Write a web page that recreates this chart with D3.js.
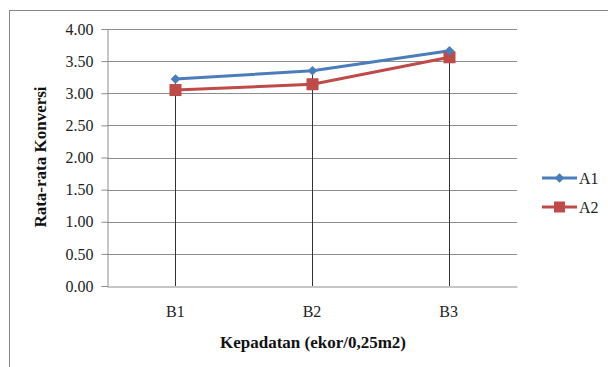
<!doctype html>
<html lang="en">
  <head>
    <title>Rata-rata Konversi</title>
    <style>
      body {
        margin: 0;
        background: white;
      }
      svg, svg text {
        display: block;
        font-family: "Liberation Serif", "Times New Roman", Times, "DejaVu Serif", serif !important;
      }
    </style>
  </head>
  <body>
    <div id="chart"></div>

    <script src="https://cdn.jsdelivr.net/npm/d3@7"></script>
    <script>
      const categories = ['B1', 'B2', 'B3']
      const seriesNames = ['A1', 'A2']
      const a1 = [3.22, 3.35, 3.66]
      const a2 = [3.05, 3.14, 3.56]
      const yTicks = [0, 0.5, 1, 1.5, 2, 2.5, 3, 3.5, 4]
      const colors = ['#4a7ebb', '#be4b48']

      const width = 608
      const height = 367
      const margin = { top: 29, right: 91, bottom: 81, left: 107 }

      const svg = d3.select('#chart')
        .append('svg')
        .attr('width', width)
        .attr('height', height)

      // outer chart border
      svg.append('rect')
        .attr('x', 9.5).attr('y', 10.5)
        .attr('width', 620).attr('height', 380)
        .attr('fill', 'none')
        .attr('stroke', '#868686')
        .attr('stroke-width', 1)

      const x = d3.scaleBand()
        .domain(categories)
        .range([margin.left, width - margin.right])

      const y = d3.scaleLinear()
        .domain([0, 4])
        .range([height - margin.bottom, margin.top])

      // gridlines
      svg.append('g').selectAll('line')
        .data(yTicks.slice(1))
        .enter()
        .append('line')
          .attr('x1', margin.left).attr('x2', width - margin.right)
          .attr('y1', d => Math.round(y(d)) + 0.5)
          .attr('y2', d => Math.round(y(d)) + 0.5)
          .attr('stroke', '#8c8c8c')

      // y axis
      const yAxis = svg.append('g')
        .attr('transform', `translate(${margin.left + 0.5},0)`)
        .call(d3.axisLeft(y).tickValues(yTicks).tickFormat(d3.format('.2f')).tickSize(6).tickPadding(8))
      yAxis.attr('font-family', null)
      yAxis.select('.domain').attr('stroke', '#8c8c8c')
      yAxis.selectAll('.tick line').attr('stroke', '#8c8c8c')
      yAxis.selectAll('.tick text')
        .attr('font-size', 16)
        .attr('fill', '#222')

      // x axis
      const xAxis = svg.append('g')
        .attr('transform', `translate(0,${Math.round(y(0)) + 0.5})`)
        .call(d3.axisBottom(x).tickSize(0).tickPadding(19))
      xAxis.attr('font-family', null)
      xAxis.select('.domain').attr('stroke', '#8c8c8c')
      xAxis.selectAll('.tick text')
        .attr('font-size', 16)
        .attr('fill', '#222')

      const cx = c => Math.round(x(c) + x.bandwidth() / 2) + 0.5

      // drop lines
      svg.append('g').selectAll('line')
        .data(categories)
        .enter()
        .append('line')
          .attr('x1', d => cx(d)).attr('x2', d => cx(d))
          .attr('y1', (d, i) => y(Math.max(a1[i], a2[i])))
          .attr('y2', y(0))
          .attr('stroke', '#333')
          .attr('stroke-width', 1)

      const line = d3.line()
        .x((d, i) => cx(categories[i]))
        .y(d => y(d))

      const series = [a1, a2]
      // draw A2 first so A1 sits on top
      ;[1, 0].forEach(s => {
        svg.append('path')
          .datum(series[s])
          .attr('d', line)
          .attr('fill', 'none')
          .attr('stroke', colors[s])
          .attr('stroke-width', 3)
      })

      // A2 squares
      svg.append('g').selectAll('rect')
        .data(a2)
        .enter()
        .append('rect')
          .attr('x', (d, i) => cx(categories[i]) - 6)
          .attr('y', d => y(d) - 6)
          .attr('width', 12).attr('height', 12)
          .attr('fill', colors[1])

      // A1 diamonds
      const diamond = d3.symbol().type(d3.symbolDiamond2).size(60)
      svg.append('g').selectAll('path')
        .data(a1)
        .enter()
        .append('path')
          .attr('d', diamond)
          .attr('transform', (d, i) => `translate(${cx(categories[i])},${y(d)})`)
          .attr('fill', colors[0])

      // legend
      const legend = svg.append('g')
      seriesNames.forEach((name, i) => {
        const ly = 178 + i * 29
        legend.append('line')
          .attr('x1', 542).attr('x2', 577)
          .attr('y1', ly).attr('y2', ly)
          .attr('stroke', colors[i])
          .attr('stroke-width', 3)
        if (i === 0) {
          legend.append('path')
            .attr('d', diamond)
            .attr('transform', `translate(559.5,${ly})`)
            .attr('fill', colors[i])
        } else {
          legend.append('rect')
            .attr('x', 554).attr('y', ly - 5.5)
            .attr('width', 11).attr('height', 11)
            .attr('fill', colors[i])
        }
        legend.append('text')
          .attr('x', 579).attr('y', ly + 5.5)
          .attr('font-size', 16)
          .attr('fill', '#222')
          .text(name)
      })

      // axis titles
      svg.append('text')
        .attr('transform', 'translate(46,157) rotate(-90)')
        .attr('text-anchor', 'middle')
        .attr('font-size', 17)
        .attr('font-weight', 'bold')
        .attr('fill', '#111')
        .text('Rata-rata Konversi')

      svg.append('text')
        .attr('x', 313).attr('y', 348)
        .attr('text-anchor', 'middle')
        .attr('font-size', 17)
        .attr('font-weight', 'bold')
        .attr('fill', '#111')
        .text('Kepadatan (ekor/0,25m2)')
    </script>
  </body>
</html>
